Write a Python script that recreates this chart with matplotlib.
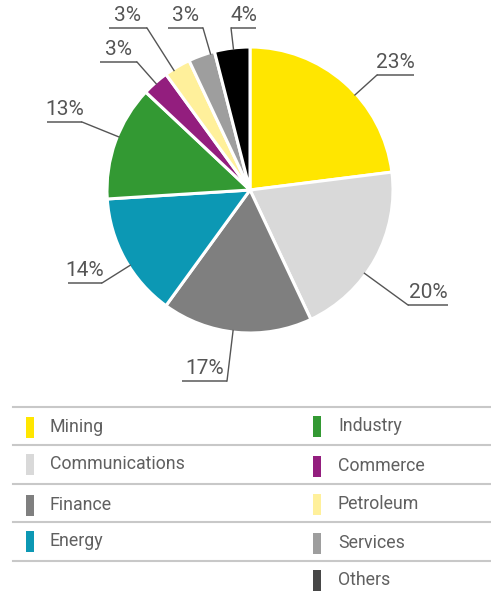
import numpy as np
import matplotlib
matplotlib.use("Agg")
import matplotlib.pyplot as plt
from matplotlib.patches import Rectangle

plt.rcParams['font.family'] = ['Roboto', 'DejaVu Sans']

# Data
sectors = ["Mining", "Communications", "Finance", "Energy", "Industry",
           "Commerce", "Petroleum", "Services", "Others"]
shares = [23, 20, 17, 14, 13, 3, 3, 3, 4]
colors = ["#FFE600", "#D9D9D9", "#7F7F7F", "#0C98B4", "#339933",
          "#931E7E", "#FFF09B", "#9E9E9E", "#000000"]
legend_colors = colors[:-1] + ["#474747"]

# Layout (pixels, top-left origin)
W, H = 491, 597
cx, cy, rad = 250, 190, 143
# underline of each label: (x_left, x_right, y), and which end connects to the pie
label_lines = [(377, 414, 75, "left"), (408, 448, 305, "left"),
               (182, 227, 381, "right"), (68, 102, 283, "right"),
               (47, 82, 122, "right"), (100, 137, 62, "right"),
               (109, 147, 28, "right"), (168, 203, 28, "right"),
               (231, 256, 28, "left")]
left_rows = [427, 464, 505, 541]
right_rows = [426, 466, 504, 543, 580]
rule_rows = [407, 445, 484, 522, 561]
text_col = "#555555"

fig = plt.figure(figsize=(W / 100, H / 100), dpi=100)
ax = fig.add_axes([0, 0, 1, 1])
ax.set_xlim(0, W)
ax.set_ylim(0, H)
ax.set_aspect("equal")
ax.axis("off")


def Y(y):
    return H - y


wedges, _ = ax.pie(shares, colors=colors, startangle=90, counterclock=False,
                   center=(cx, Y(cy)), radius=rad,
                   wedgeprops=dict(edgecolor="white", linewidth=2.2))
ax.set_xlim(0, W)
ax.set_ylim(0, H)

for w, v, (x0, x1, yl, end) in zip(wedges, shares, label_lines):
    xe = x0 if end == "left" else x1
    # point on the wedge rim facing the label, kept inside the wedge
    ang = np.degrees(np.arctan2(Y(yl) - Y(cy), xe - cx)) % 360
    lo, hi = min(w.theta1, w.theta2), max(w.theta1, w.theta2)
    a = ang
    if a < lo:
        a += 360
    if a > hi:
        a -= 360
    a = np.clip(a, lo + 1, hi - 1)
    px = cx + rad * 0.99 * np.cos(np.radians(a))
    py = Y(cy) + rad * 0.99 * np.sin(np.radians(a))
    ax.plot([x0, x1], [Y(yl), Y(yl)], color="#666666", lw=1.2,
            solid_capstyle="butt")
    ax.plot([xe, px], [Y(yl), py], color="#555555", lw=1.0)
    ax.text((x0 + x1) / 2, Y(yl) + 3, f"{v}%", ha="center", va="bottom",
            fontsize=15, color=text_col)

# legend rules
for yr in rule_rows:
    ax.plot([13, W], [Y(yr), Y(yr)], color="#C8C8C8", lw=1.5)

for i, name in enumerate(sectors):
    if i < len(left_rows):
        xm, xt, yc = 26, 50, left_rows[i]
    else:
        xm, xt, yc = 313, 338, right_rows[i - len(left_rows)]
    ax.add_patch(Rectangle((xm, Y(yc) - 10.5), 8, 21,
                           color=legend_colors[i], lw=0))
    ax.text(xt, Y(yc), name, ha="left", va="center", fontsize=12.8,
            color="#606060")

fig.savefig("out.png", dpi=100)
